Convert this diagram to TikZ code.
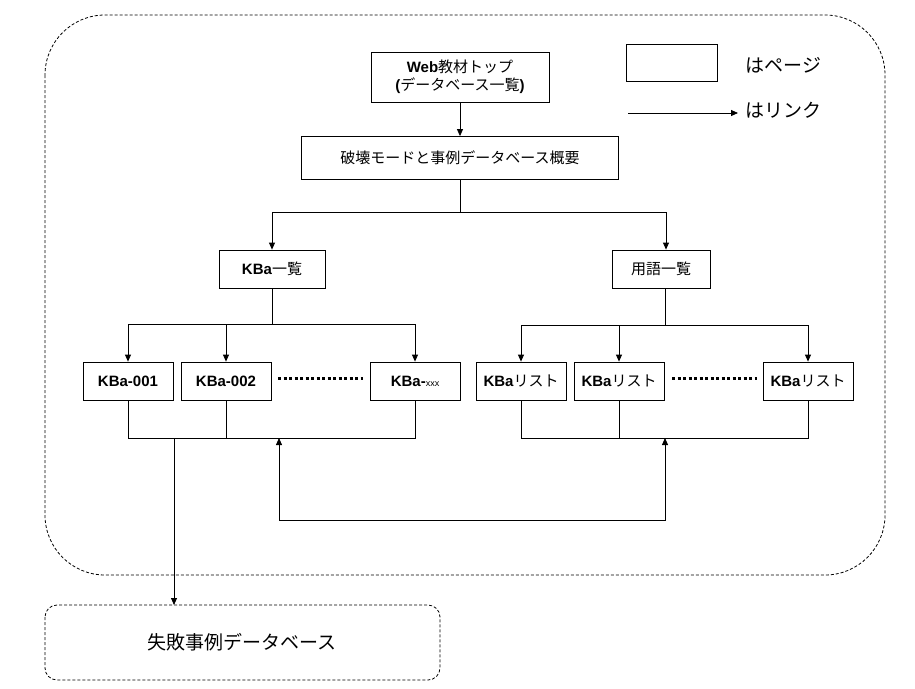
\documentclass[tikz,border=0pt]{standalone}
\usepackage{fontspec}
\setmainfont{Noto Sans CJK JP}
\newfontfamily\lat{Liberation Sans}
\usetikzlibrary{arrows.meta}
\begin{document}
\begin{tikzpicture}[x=1pt,y=-1pt,>={Triangle[length=7pt,width=6pt]},line width=0.8pt]

%
% Styles
%
\tikzset{page/.style={rectangle,draw,inner sep=0pt,font=\fontsize{15}{18}\selectfont},
  kb/.style={page,minimum width=90pt,minimum height=38pt},
  outline/.style={draw,dash pattern=on 3pt off 2pt}}

\useasboundingbox (0,0) rectangle (915,688);
\draw[outline,rounded corners=60pt] (45,15) rectangle (885,575);
\draw[outline,rounded corners=12pt] (45,605) rectangle (440,680);

\node[page,minimum width=178pt,minimum height=50pt,align=center] (top) at (460,77)
  {{\lat\bfseries Web}教材トップ\\{\lat\bfseries (}データベース一覧{\lat\bfseries )}};
\node[page,minimum width=317pt,minimum height=43pt] (gaiyo) at (460,158) {破壊モードと事例データベース概要};
\node[page,minimum width=106pt,minimum height=38pt] (kbalist) at (272,269) {{\lat\bfseries KBa}一覧};
\node[page,minimum width=98pt,minimum height=38pt] (yogo) at (661,269) {用語一覧};

\node[kb] (k1) at (128,381) {\lat\bfseries KBa-001};
\node[kb] (k2) at (226,381) {\lat\bfseries KBa-002};
\node[kb] (kx) at (415,381) {{\lat\bfseries KBa-}{\lat\small xxx}};
\node[kb] (r1) at (521,381) {{\lat\bfseries KBa}リスト};
\node[kb] (r2) at (619,381) {{\lat\bfseries KBa}リスト};
\node[kb] (rx) at (808,381) {{\lat\bfseries KBa}リスト};

\node[font=\fontsize{19}{22}\selectfont] (db) at (242,642) {失敗事例データベース};

% legend
\node[page,minimum width=91pt,minimum height=37pt] (lgbox) at (672,63) {};
\node[anchor=west,font=\fontsize{19}{22}\selectfont] (lgpage) at (742,65) {はページ};
\coordinate (lga) at (628,113);
\coordinate (lgb) at (738,113);
\node[anchor=west,font=\fontsize{19}{22}\selectfont] (lglink) at (742,110) {はリンク};
\draw[->] (lga) -- (lgb);

\draw[->] (top) -- (gaiyo);
\draw (gaiyo.south) -- ++(0,32) coordinate (b1);
\draw[->] (b1) -| (kbalist);
\draw[->] (b1) -| ([xshift=5pt]yogo.north);

\draw (kbalist.south) -- ++(0,36) coordinate (b2);
\draw[->] (b2) -| (k1);
\draw[->] (b2) -| (k2);
\draw[->] (b2) -| (kx);
\draw ([xshift=4pt]yogo.south) -- ++(0,37) coordinate (b3);
\draw[->] (b3) -| (r1);
\draw[->] (b3) -| (r2);
\draw[->] (b3) -| (rx);

\draw[line width=3pt,dash pattern=on 3pt off 2.5pt] (278,378) -- (363,378);
\draw[line width=3pt,dash pattern=on 3pt off 2.5pt] (672,378) -- (757,378);

\draw (k1.south) -- (128,438) -- (415,438) -- (kx.south);
\draw (k2.south) -- (226,438);
\draw (r1.south) -- (521,438) -- (808,438) -- (rx.south);
\draw (r2.south) -- (619,438);
\coordinate (up1) at (279,438);
\coordinate (up2) at (665,438);
\draw[<->] (up1) |- (665,520) -- (up2);

\coordinate (out) at (174,438);
\draw[->] (out) -- (174,605);
\end{tikzpicture}
\end{document}
